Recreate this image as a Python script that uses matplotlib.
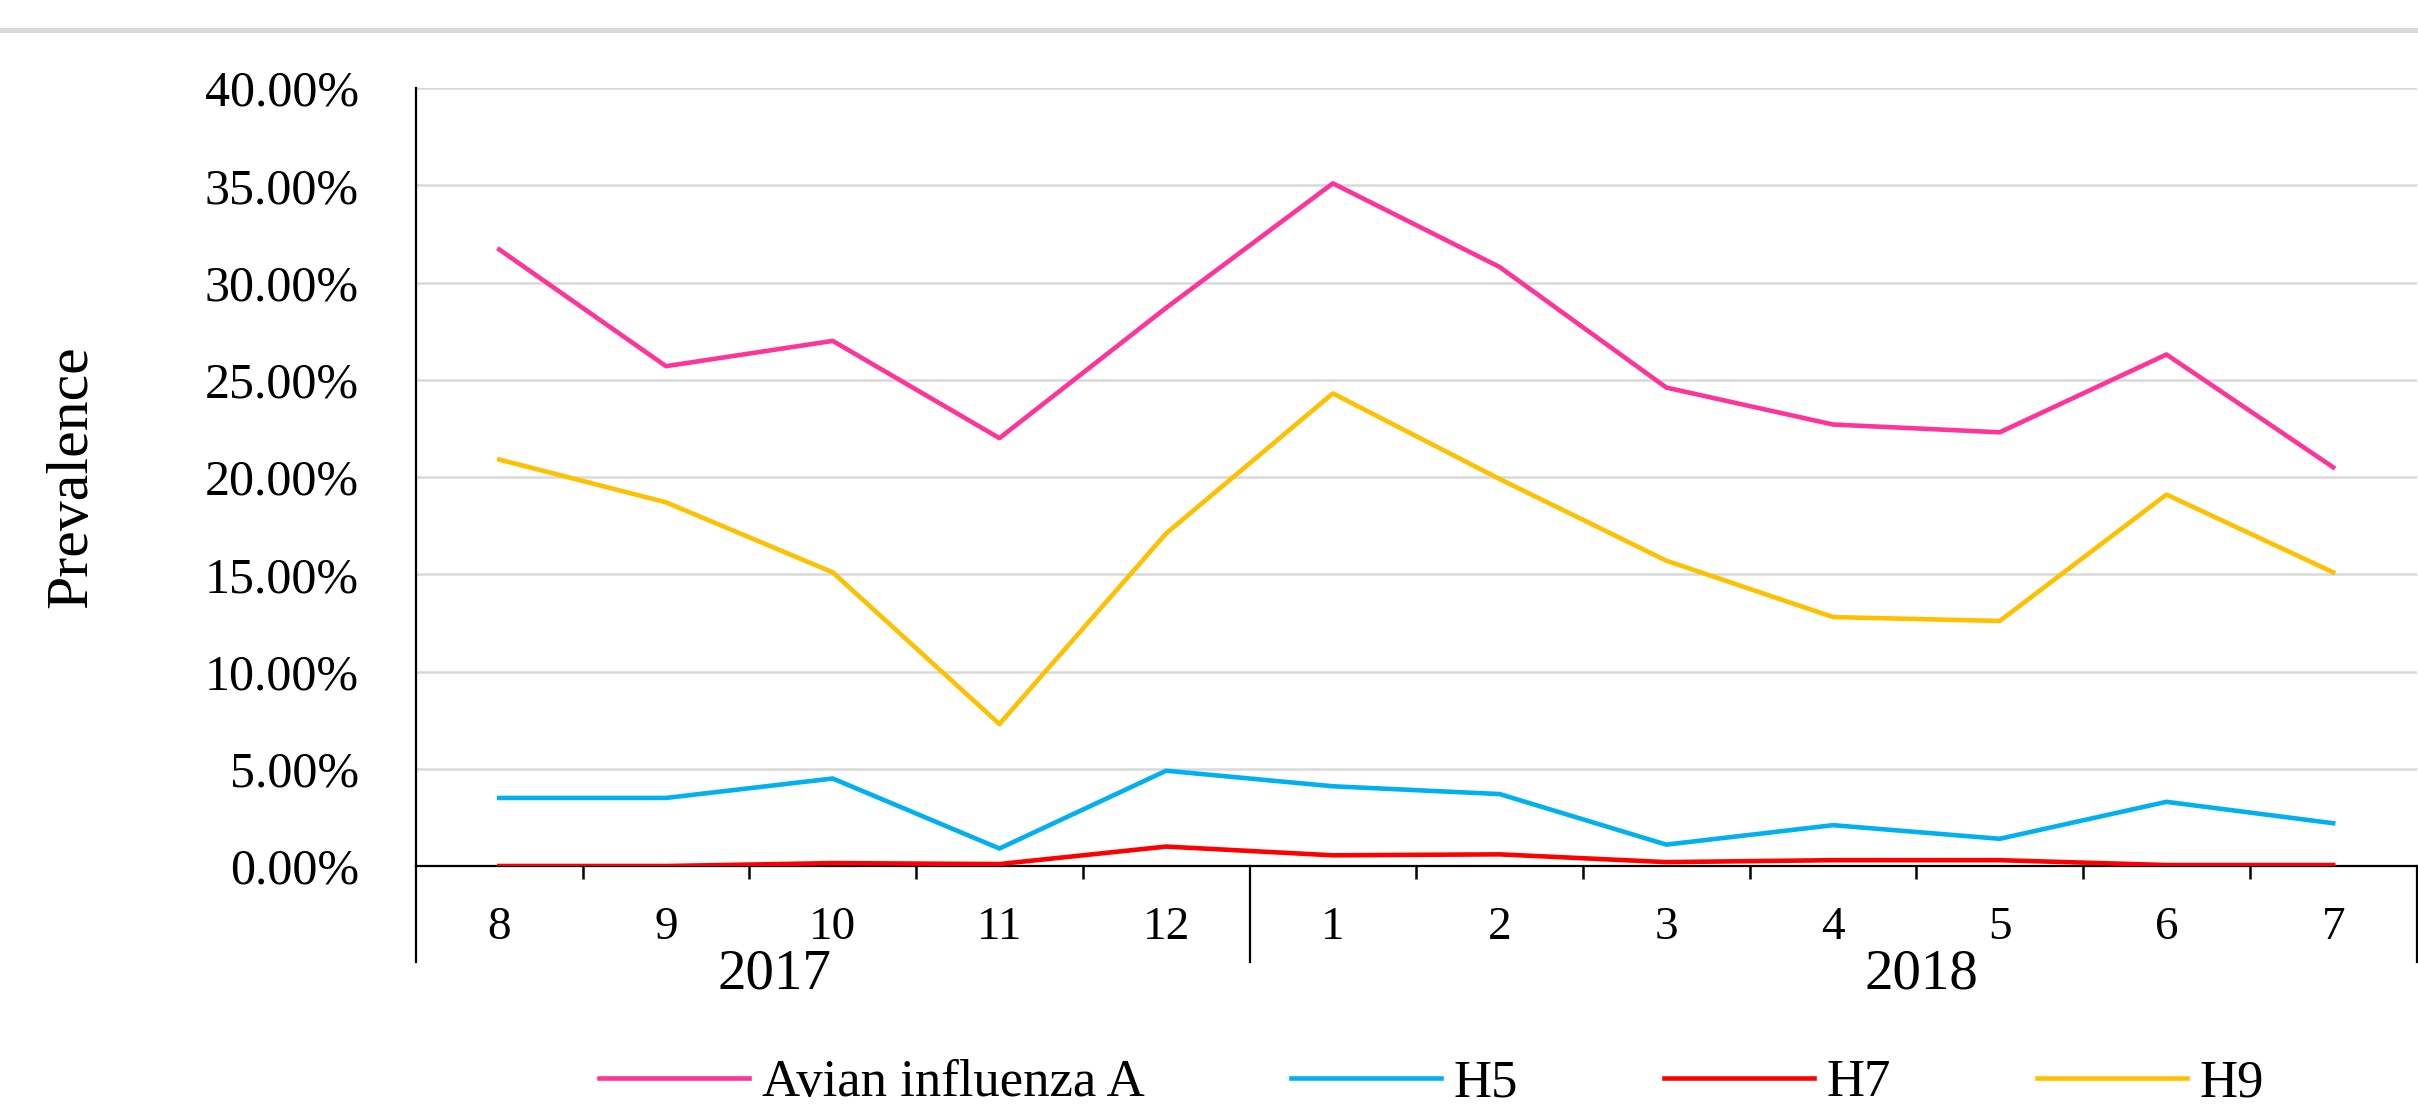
import matplotlib
matplotlib.use("Agg")
import matplotlib.pyplot as plt
import matplotlib.transforms as mtransforms
import matplotlib.lines as mlines
from matplotlib.ticker import FuncFormatter

plt.rcParams["font.family"] = ["Liberation Serif", "DejaVu Serif"]

# data (prevalence, %)
months = ["8", "9", "10", "11", "12", "1", "2", "3", "4", "5", "6", "7"]
years = ["2017", "2018"]
year_pos = [1.65, 8.53]
avian = [31.7, 25.7, 27.0, 22.0, 28.7, 35.1, 30.8, 24.6, 22.7, 22.3, 26.3, 20.5]
h5 = [3.5, 3.5, 4.5, 0.9, 4.9, 4.1, 3.7, 1.1, 2.1, 1.4, 3.3, 2.2]
h7 = [0.0, 0.0, 0.15, 0.1, 1.0, 0.55, 0.6, 0.2, 0.3, 0.3, 0.05, 0.05]
h9 = [20.9, 18.7, 15.1, 7.3, 17.1, 24.3, 19.9, 15.7, 12.8, 12.6, 19.1, 15.1]

series = [
    ("Avian influenza A", avian, "#FF3399"),
    ("H5", h5, "#00B0F0"),
    ("H7", h7, "#FF0000"),
    ("H9", h9, "#FFC000"),
]

fig = plt.figure(figsize=(24.18, 11.09), dpi=100)
ax = fig.add_axes([0.172, 0.2191, 0.8274, 0.7015])

x = list(range(len(months)))
for name, vals, col in series:
    ax.plot(x, vals, color=col, lw=3.3, label=name, zorder=3)

ax.set_xlim(-0.5, 11.5)
ax.set_ylim(0, 40)
ax.set_yticks(range(0, 41, 5))
ax.yaxis.set_major_formatter(FuncFormatter(lambda v, p: f"{v:.2f}%"))
ax.tick_params(axis="y", length=0, pad=41, labelsize=36)

ax.set_xticks(x)
ax.set_xticklabels(months)
ax.tick_params(axis="x", which="major", length=0, pad=29, labelsize=34)
ax.set_xticks([i + 0.5 for i in range(11) if i != 4], minor=True)
ax.tick_params(axis="x", which="minor", length=9.4, width=1.8, direction="out")

ax.grid(axis="y", color="#D9D9D9", lw=1.8)
ax.set_axisbelow(True)
for s in ["top", "right"]:
    ax.spines[s].set_visible(False)
ax.spines["left"].set_linewidth(1.6)
ax.spines["bottom"].set_linewidth(1.6)

# long separator lines under the axis for the year groups
trans = mtransforms.blended_transform_factory(ax.transData, ax.transAxes)
for xs in [-0.5, 4.5, 11.5]:
    ax.plot([xs, xs], [0, -0.123], transform=trans, color="black", lw=1.6, clip_on=False)

for yp, yr in zip(year_pos, years):
    ax.text(yp, -0.140, yr, transform=trans, ha="center", va="center", fontsize=41)

fig.text(0.030, 0.5699, "Prevalence", rotation=90, ha="center", va="center", fontsize=43)

# grey rule along the top
fig.add_artist(mlines.Line2D([0, 1], [0.9725, 0.9725], color="#D9D9D9", lw=3.6,
                             transform=fig.transFigure))

fig.legend(loc="center", bbox_to_anchor=(0.592, 0.023), ncol=4, frameon=False,
           fontsize=38, handlelength=2.84, handletextpad=0.24, columnspacing=2.77)

fig.savefig("out.png", dpi=100)
